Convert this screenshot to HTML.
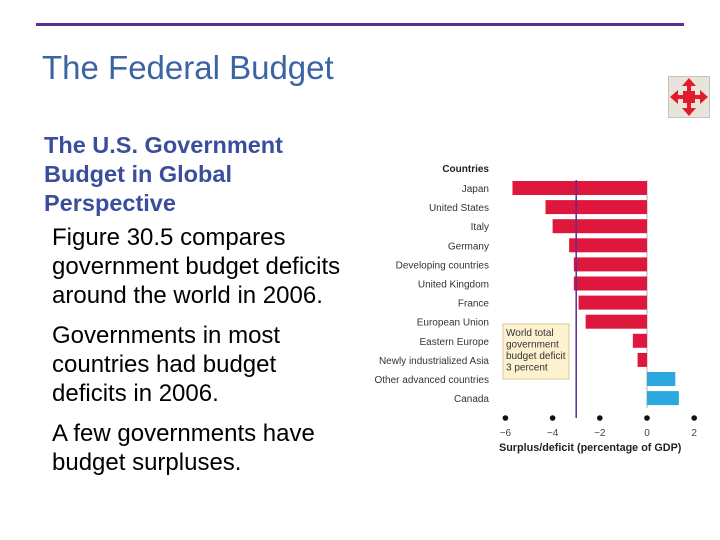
<!DOCTYPE html>
<html><head><meta charset="utf-8"><style>
body{margin:0;width:720px;height:540px;background:#fff;font-family:"Liberation Sans",sans-serif;position:relative;overflow:hidden}
.t{position:absolute;white-space:nowrap}
</style></head><body>
<div style="position:absolute;left:36px;top:23px;width:648px;height:3px;background:#5b2e8f"></div>
<div class="t" style="left:42px;top:49px;font-size:33px;color:#3b64a4">The Federal Budget</div>
<div class="t" style="left:44px;top:131px;font-size:23.5px;line-height:29px;font-weight:bold;color:#3a4e9c">The U.S. Government<br>Budget in Global<br>Perspective</div>
<div class="t" style="left:52px;top:223px;font-size:24px;line-height:29px;color:#000">Figure 30.5 compares<br>government budget deficits<br>around the world in 2006.</div>
<div class="t" style="left:52px;top:321px;font-size:24px;line-height:29px;color:#000">Governments in most<br>countries had budget<br>deficits in 2006.</div>
<div class="t" style="left:52px;top:419px;font-size:24px;line-height:29px;color:#000">A few governments have<br>budget surpluses.</div>
<div style="position:absolute;left:668px;top:76px;width:42px;height:42px;background:#e8e4dc;border:1px solid #c8c2b8;box-sizing:border-box">
<svg width="40" height="40" viewBox="0 0 40 40"><g fill="#e01b2b"><rect x="14" y="14" width="12" height="12"/><rect x="18" y="6" width="4" height="28"/><rect x="6" y="18" width="28" height="4"/><polygon points="20,1 13,9 27,9"/><polygon points="20,39 13,31 27,31"/><polygon points="1,20 9,13 9,27"/><polygon points="39,20 31,13 31,27"/></g></svg></div>
<svg id="chart" style="position:absolute;left:0;top:0" width="720" height="540"></svg>
<script>
const categories=["Japan","United States","Italy","Germany","Developing countries","United Kingdom","France","European Union","Eastern Europe","Newly industrialized Asia","Other advanced countries","Canada"];
const values=[-5.7,-4.3,-4.0,-3.3,-3.1,-3.1,-2.9,-2.6,-0.6,-0.4,1.2,1.35];
const ticks=[-6,-4,-2,0,2];
const worldTotal=-3;
const NS="http://www.w3.org/2000/svg";
const svg=document.getElementById('chart');
const x=v=>647+v*23.6;
const y=i=>188+i*19.1;
function mk(t,a){const e=document.createElementNS(NS,t);for(const k in a)e.setAttribute(k,a[k]);svg.appendChild(e);return e;}
let e=mk('text',{x:489,y:172,'text-anchor':'end','font-size':10,'font-weight':'bold',fill:'#222','font-family':'Liberation Sans Narrow, Liberation Sans, sans-serif'});e.textContent='Countries';


e=mk('line',{x1:x(0),x2:x(0),y1:180,y2:408,stroke:'#ccc','stroke-width':1.5});


categories.forEach((c,i)=>{
 const v=values[i];
 const b=mk('rect',{x:Math.min(x(0),x(v)),y:y(i)-7,width:Math.abs(x(v)-x(0)),height:14,fill:v<0?'#e0173c':'#2ba8df'});
 
 
 const t=mk('text',{x:489,y:y(i)+4,'text-anchor':'end','font-size':10,fill:'#333','font-family':'Liberation Sans Narrow, Liberation Sans, sans-serif'});
 t.textContent=c;
 
 
});
e=mk('line',{x1:x(worldTotal),x2:x(worldTotal),y1:180,y2:418,stroke:'#5b2e8f','stroke-width':1.5});


e=mk('rect',{x:503,y:324,width:66,height:55,fill:'#fdf1cf',stroke:'#d9c79a','stroke-width':1});


["World total","government","budget deficit","3 percent"].forEach((s,i)=>{const t=mk('text',{x:506,y:336+i*11.5,'font-size':10,fill:'#333','font-family':'Liberation Sans Narrow, Liberation Sans, sans-serif'});t.textContent=s;

});
ticks.forEach(v=>{
 const d=mk('circle',{cx:x(v),cy:418,r:2.8,fill:'#111'});
 
 
 const t=mk('text',{x:x(v),y:436,'text-anchor':'middle','font-size':10,fill:'#444','font-family':'Liberation Sans, sans-serif'});
 t.textContent=v<0?'\u2212'+(-v):String(v);
 
 
});
e=mk('text',{x:499,y:451,'font-size':10.8,'font-weight':'bold',fill:'#222','font-family':'Liberation Sans, sans-serif'});e.textContent='Surplus/deficit (percentage of GDP)';


</script>
</body></html>
